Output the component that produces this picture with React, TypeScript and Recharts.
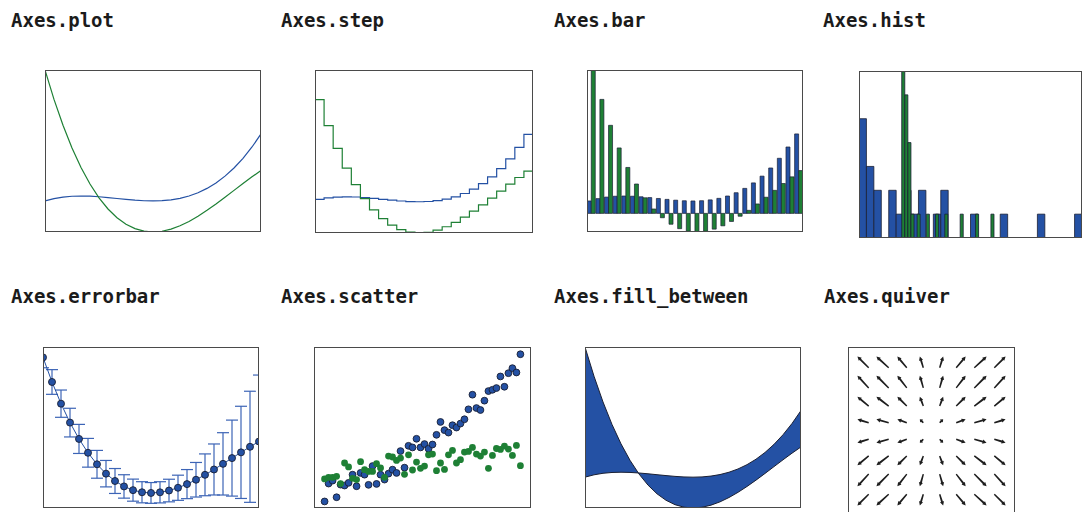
import React from "react";
import {
  LineChart,
  Line,
  BarChart,
  Bar,
  ComposedChart,
  Area,
  ScatterChart,
  Scatter,
  ErrorBar,
  ReferenceArea,
  XAxis,
  YAxis,
} from "recharts";

// x grid shared by plot / step / bar / errorbar / fill_between
const xs = [-3, -2.75, -2.5, -2.25, -2, -1.75, -1.5, -1.25, -1, -0.75, -0.5, -0.25, 0, 0.25, 0.5, 0.75, 1, 1.25, 1.5, 1.75, 2, 2.25, 2.5, 2.75, 3];
const y1 = [10, 11.89, 13.13, 13.8, 14, 13.83, 13.38, 12.73, 12, 11.27, 10.63, 10.17, 10, 10.2, 10.88, 12.11, 14, 16.64, 20.13, 24.55, 30, 36.58, 44.38, 53.48, 64];
const y2 = [115.5, 91.82, 70.94, 52.71, 37, 23.66, 12.56, 3.55, -3.5, -8.74, -12.31, -14.35, -15, -14.4, -12.69, -10.01, -6.5, -2.3, 2.44, 7.59, 13, 18.54, 24.06, 29.43, 34.5];

// histogram counts (30 bins each)
const histBlueStart = -15;
const histBlueWidth = 4.35;
const histBlue = [5, 3, 2, 0, 2, 1, 2, 1, 2, 0, 1, 2, 0, 0, 0, 1, 0, 0, 0, 1, 0, 0, 0, 0, 1, 0, 0, 0, 0, 1];
const histGreenStart = 10;
const histGreenWidth = 1.8;
const histGreen = [7, 6, 4, 1, 0, 1, 0, 0, 1, 0, 0, 1, 0, 0, 1, 0, 0, 0, 0, 1, 0, 0, 0, 0, 1, 0, 0, 0, 0, 1];

// scatter (50 samples each)
const scatterBlue = [-0.59, 0.94, 1.19, -0.23, 0.85, 0.77, 1.0, 1.7, 0.71, 1.85, 1.7, 0.83, 2.44, 0.91, 1.7, 1.28, 1.79, 2.13, 1.85, 3.72, 2.3, 4.17, 4.03, 4.77, 4.03, 4.32, 3.92, 4.28, 5.11, 6.21, 5.51, 5.3, 5.93, 5.73, 6.07, 6.44, 7.29, 8.54, 7.4, 7.23, 8.03, 8.85, 8.96, 9.11, 10.1, 9.22, 10.38, 10.81, 10.44, 12];
const scatterGreen = [1.34, 1.47, 1.47, 1.56, 0.94, 2.7, 2.36, 1.39, 1.28, 2.81, 2.13, 1.98, 1.98, 2.64, 2.27, 1.47, 3.29, 3.21, 2.92, 3.12, 1.73, 3.4, 2.1, 2.78, 2.24, 2.44, 3.4, 3.46, 2.04, 2.7, 2.15, 3.4, 3.77, 2.7, 2.98, 3.63, 3.69, 4.03, 3.46, 3.29, 3.63, 2.24, 3.35, 3.94, 3.86, 4.15, 3.89, 3.35, 4.2, 2.47];

// quiver grid
const qPos = [-2, -1.43, -0.86, -0.29, 0.29, 0.86, 1.43, 2];
const qSin = [-0.91, -0.99, -0.76, -0.28, 0.28, 0.76, 0.99, 0.91];

const BLUE = "#2451a4";
const GREEN = "#1e8035";
const EDGE = "#1a1f33";

const curveData = xs.map((x, i) => ({ x, y1: y1[i], y2: y2[i] }));
const scatterBlueData = scatterBlue.map((v, i) => ({ i, v }));
const scatterGreenData = scatterGreen.map((v, i) => ({ i, v }));
const quiverData = qPos.flatMap((y, r) => qPos.map((x, c) => ({ x, y, u: qSin[c], v: qSin[r] })));

const blueBins = histBlue.map((n, k) => ({ x1: histBlueStart + k * histBlueWidth, x2: histBlueStart + (k + 1) * histBlueWidth, n })).filter((b) => b.n > 0);
const greenBins = histGreen.map((n, k) => ({ x1: histGreenStart + k * histGreenWidth, x2: histGreenStart + (k + 1) * histGreenWidth, n })).filter((b) => b.n > 0);

const M = { top: 0, right: 0, bottom: 0, left: 0 };

function Title({ left, top, text }: { left: number; top: number; text: string }) {
  return (
    <div
      style={{
        position: "absolute",
        left,
        top,
        font: 'bold 19px "DejaVu Sans Mono", monospace',
        lineHeight: "19px",
        color: "#1b1b1b",
        whiteSpace: "nowrap",
      }}
    >
      {text}
    </div>
  );
}

function Panel({ left, top, w, h, children }: { left: number; top: number; w: number; h: number; children: React.ReactNode }) {
  return (
    <div style={{ position: "absolute", left, top, width: w, height: h }}>
      {children}
      <div style={{ position: "absolute", inset: 0, border: "1px solid #4a4a4a", pointerEvents: "none" }} />
    </div>
  );
}

const dotBlue = (p: any) => <circle cx={p.cx} cy={p.cy} r={3.4} fill={BLUE} stroke={EDGE} strokeWidth={0.9} />;
const dotGreen = (p: any) => <circle cx={p.cx} cy={p.cy} r={3.4} fill={GREEN} />;

// quiver-style needle arrow centred on its grid point
const arrow = (p: any) => {
  const d0 = p.payload ?? p;
  const len = Math.hypot(d0.u, d0.v) * 12.4;
  const ang = (Math.atan2(-d0.v, d0.u) * 180) / Math.PI;
  const hl = Math.min(4, len * 0.5);
  const hw = 2.1;
  const sw = 1.0;
  const a = -len / 2;
  const b = len / 2;
  const d = `M${a},${-sw * 0.7} L${b - hl},${-sw} L${b - hl},${-hw} L${b},0 L${b - hl},${hw} L${b - hl},${sw} L${a},${sw * 0.7} Z`;
  return <path d={d} fill="#1e1e1e" transform={`translate(${p.cx},${p.cy}) rotate(${ang})`} />;
};

export default function App() {
  return (
    <div style={{ position: "absolute", left: 0, top: 0, width: 1088, height: 512, background: "white", overflow: "hidden" }}>
      <Title left={11} top={11} text="Axes.plot" />
      <Title left={281} top={11} text="Axes.step" />
      <Title left={554} top={11} text="Axes.bar" />
      <Title left={823} top={11} text="Axes.hist" />
      <Title left={11} top={287} text="Axes.errorbar" />
      <Title left={281} top={287} text="Axes.scatter" />
      <Title left={554} top={287} text="Axes.fill_between" />
      <Title left={824} top={287} text="Axes.quiver" />

      <Panel left={45} top={70} w={216} h={162}>
        <LineChart width={216} height={162} data={curveData} margin={M}>
          <XAxis type="number" dataKey="x" domain={[-3, 3]} allowDataOverflow hide />
          <YAxis domain={[-15, 115.5]} allowDataOverflow hide />
          <Line type="linear" dataKey="y1" stroke={BLUE} strokeWidth={1.2} dot={false} isAnimationActive={false} />
          <Line type="linear" dataKey="y2" stroke={GREEN} strokeWidth={1.2} dot={false} isAnimationActive={false} />
        </LineChart>
      </Panel>

      <Panel left={315} top={70} w={218} h={163}>
        <LineChart width={218} height={163} data={curveData} margin={M}>
          <XAxis type="number" dataKey="x" domain={[-3, 3]} allowDataOverflow hide />
          <YAxis domain={[-15, 115.5]} allowDataOverflow hide />
          <Line type="stepBefore" dataKey="y1" stroke={BLUE} strokeWidth={1.2} dot={false} isAnimationActive={false} />
          <Line type="stepBefore" dataKey="y2" stroke={GREEN} strokeWidth={1.2} dot={false} isAnimationActive={false} />
        </LineChart>
      </Panel>

      <Panel left={587} top={70} w={216} h={162}>
        <BarChart width={216} height={162} data={curveData} margin={M} barGap={0} barCategoryGap="3%">
          <XAxis dataKey="x" hide />
          <YAxis domain={[-15, 115.5]} allowDataOverflow hide />
          <Bar dataKey="y1" fill={BLUE} stroke={EDGE} strokeWidth={0.7} isAnimationActive={false} />
          <Bar dataKey="y2" fill={GREEN} stroke={EDGE} strokeWidth={0.7} isAnimationActive={false} />
        </BarChart>
      </Panel>

      <Panel left={859} top={71} w={223} h={167}>
        <ComposedChart width={223} height={167} data={blueBins} margin={M}>
          <XAxis type="number" dataKey="x1" domain={[-15, 115.5]} allowDataOverflow hide />
          <YAxis domain={[0, 7]} allowDataOverflow hide />
          <Line dataKey="n" stroke="none" dot={false} isAnimationActive={false} />
          {blueBins.map((b, k) => (
            <ReferenceArea key={"b" + k} x1={b.x1} x2={b.x2} y1={0} y2={b.n} fill={BLUE} fillOpacity={1} stroke={EDGE} strokeWidth={0.8} />
          ))}
          {greenBins.map((b, k) => (
            <ReferenceArea key={"g" + k} x1={b.x1} x2={b.x2} y1={0} y2={b.n} fill={GREEN} fillOpacity={1} stroke={EDGE} strokeWidth={0.8} />
          ))}
        </ComposedChart>
      </Panel>

      <Panel left={43} top={347} w={216} h={161}>
        <LineChart width={216} height={161} data={curveData.map((d) => ({ ...d, err: d.y1 }))} margin={M}>
          <XAxis type="number" dataKey="x" domain={[-3, 3]} allowDataOverflow hide />
          <YAxis domain={[-29.5, 125.5]} allowDataOverflow hide />
          <Line
            type="linear"
            dataKey="y2"
            stroke={BLUE}
            strokeWidth={1}
            dot={{ r: 3.5, fill: BLUE, stroke: EDGE, strokeWidth: 0.9 }}
            isAnimationActive={false}
          >
            <ErrorBar dataKey="err" width={6} stroke="#3c64b6" strokeWidth={1.2} direction="y" />
          </Line>
        </LineChart>
      </Panel>

      <Panel left={314} top={347} w={217} h={161}>
        <ScatterChart width={217} height={161} margin={M}>
          <XAxis type="number" dataKey="i" domain={[-2.65, 51.65]} allowDataOverflow hide />
          <YAxis type="number" dataKey="v" domain={[-1.15, 12.62]} allowDataOverflow hide />
          <Scatter data={scatterBlueData} shape={dotBlue} isAnimationActive={false} />
          <Scatter data={scatterGreenData} shape={dotGreen} isAnimationActive={false} />
        </ScatterChart>
      </Panel>

      <Panel left={585} top={347} w={216} h={161}>
        <ComposedChart width={216} height={161} data={curveData} margin={M}>
          <XAxis type="number" dataKey="x" domain={[-3, 3]} allowDataOverflow hide />
          <YAxis domain={[-15, 115.5]} allowDataOverflow hide />
          <Area
            type="linear"
            dataKey={(d: any) => [d.y1, d.y2]}
            fill={BLUE}
            fillOpacity={1}
            stroke={EDGE}
            strokeWidth={1}
            isAnimationActive={false}
          />
        </ComposedChart>
      </Panel>

      <Panel left={848} top={347} w={167} h={168}>
        <ScatterChart width={167} height={168} margin={M}>
          <XAxis type="number" dataKey="x" domain={[-2.44, 2.44]} allowDataOverflow hide />
          <YAxis type="number" dataKey="y" domain={[-2.44, 2.44]} allowDataOverflow hide />
          <Scatter data={quiverData} shape={arrow} isAnimationActive={false} />
        </ScatterChart>
      </Panel>
    </div>
  );
}
